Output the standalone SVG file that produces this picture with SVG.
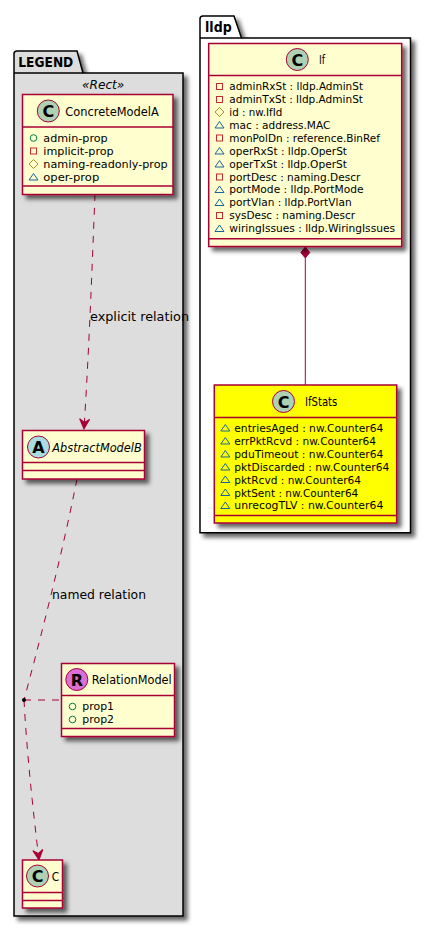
<svg xmlns="http://www.w3.org/2000/svg" width="431" height="927" viewBox="0 0 431 927">
<style>
text{font-family:"DejaVu Sans","Liberation Sans",sans-serif;fill:#000}
.pkg{fill:#DDDDDD;stroke:#000;stroke-width:1.5}
.pkgw{fill:#FFFFFF;stroke:#000;stroke-width:1.5}
.box{fill:#FEFECE;stroke:#A80036;stroke-width:1.5}
.y{fill:#FFFF00}
.div{stroke:#A80036;stroke-width:1.5;fill:none}
.ct{stroke:#A80036;stroke-width:1;fill:#ADD1B2}
.pt{font-size:14px;font-weight:bold}
.hd{font-size:13px}
.it{font-style:italic}
.rw{font-size:11px}
.gl{font-size:16px;font-weight:bold;text-anchor:middle}
.lb{font-size:13px}
.dash{fill:none;stroke:#A80036;stroke-width:1;stroke-dasharray:7 7}
.sh{filter:url(#s)}
</style>
<defs>
<filter id="s" x="-20%" y="-20%" width="140%" height="140%"><feDropShadow dx="4" dy="4" stdDeviation="2" flood-color="#000" flood-opacity="0.6"/></filter>
<marker id="open" viewBox="0 0 12 12" refX="11" refY="6" markerWidth="12" markerHeight="12" markerUnits="userSpaceOnUse" orient="auto"><path d="M1 1 L11 6 L1 11 L4.500 6 Z" fill="#A80036" stroke="#A80036" stroke-width="1"/></marker>
<circle id="pub" r="3.300" fill="none" stroke="#038048"/>
<rect id="pri" x="-3" y="-3" width="6" height="6" fill="none" stroke="#C82930"/>
<path id="pro" d="M0 -4.500 L4.500 0 L0 4.500 L-4.500 0 Z" fill="none" stroke="#B38D22"/>
<path id="pkgp" d="M0 -3.500 L4.500 3 L-4.500 3 Z" fill="none" stroke="#1963A0"/>
</defs>

<g id="pkg-LEGEND">
<path class="pkg sh" d="M14 73 V54 Q14 51 17 51 H77 L83 73 H183 V916 H14 Z"/>
<path d="M14 73 H83" fill="none" stroke="#000" stroke-width="1.500"/>
<text class="pt" x="18.300" y="66.700" textLength="55" lengthAdjust="spacingAndGlyphs">LEGEND</text>
<text class="hd it" x="82" y="89" textLength="42.300" lengthAdjust="spacingAndGlyphs">«Rect»</text>
</g>
<g id="pkg-lldp">
<path class="pkgw sh" d="M200 38 V19 Q200 16 203 16 H234 L241.500 38 H410.500 V532.700 H200 Z"/>
<path d="M200 38 H241.500" fill="none" stroke="#000" stroke-width="1.500"/>
<text class="pt" x="205" y="32" textLength="26.700" lengthAdjust="spacingAndGlyphs">lldp</text>
</g>

<g id="connectors">
<path class="dash" d="M95 194 C92 270 89 350 84 429" marker-end="url(#open)"/>
<path class="dash" d="M77 479 C62 555 40 640 24 700"/>
<path class="dash" d="M24 700 C27 755 33 810 39 860" marker-end="url(#open)"/>
<path class="dash" d="M24 700 H61"/>
<path d="M305.300 258 V385" fill="none" stroke="#A80036"/>
<path d="M305.300 247 L309.800 252.500 L305.300 258 L300.800 252.500 Z" fill="#A80036" stroke="#A80036"/>
<circle cx="24" cy="700" r="2" fill="#000"/>
<text class="lb" x="90" y="320.500" textLength="99" lengthAdjust="spacingAndGlyphs">explicit relation</text>
<text class="lb" x="52" y="598.500" textLength="94" lengthAdjust="spacingAndGlyphs">named relation</text>
</g>

<g id="ConcreteModelA">
<rect class="box sh" x="22.500" y="94.500" width="150.500" height="100"/>
<path class="div" d="M22.500 127 H173 M22.500 186 H173"/>
<circle class="ct" cx="48.300" cy="111" r="11"/>
<text class="gl" x="48.300" y="117">C</text>
<text class="hd" x="65.300" y="115.500" textLength="93.400" lengthAdjust="spacingAndGlyphs">ConcreteModelA</text>
<use href="#pub" x="33.500" y="138"/>
<text class="rw" x="43.300" y="141.500" textLength="64.400" lengthAdjust="spacingAndGlyphs">admin-prop</text>
<use href="#pri" x="33.500" y="151"/>
<text class="rw" x="43.300" y="154.500" textLength="70.400" lengthAdjust="spacingAndGlyphs">implicit-prop</text>
<use href="#pro" x="33.500" y="164"/>
<text class="rw" x="43.300" y="167.500" textLength="124.400" lengthAdjust="spacingAndGlyphs">naming-readonly-prop</text>
<use href="#pkgp" x="33.500" y="177"/>
<text class="rw" x="43.300" y="180.500" textLength="56" lengthAdjust="spacingAndGlyphs">oper-prop</text>
</g>

<g id="AbstractModelB">
<rect class="box sh" x="22.500" y="430.500" width="122" height="48.500"/>
<path class="div" d="M22.500 462.500 H144.500 M22.500 470.500 H144.500"/>
<circle class="ct" cx="38.500" cy="447" r="11" style="fill:#A9DCDF"/>
<text class="gl" x="38.500" y="453">A</text>
<text class="hd it" x="52.300" y="451.500" textLength="89.400" lengthAdjust="spacingAndGlyphs">AbstractModelB</text>
</g>

<g id="RelationModel">
<rect class="box sh" x="61.500" y="663.500" width="113" height="73"/>
<path class="div" d="M61.500 695.500 H174.500 M61.500 728.500 H174.500"/>
<circle class="ct" cx="76.800" cy="679.500" r="11" style="fill:#DA70D6"/>
<text class="gl" x="76.800" y="685.500">R</text>
<text class="hd" x="91.700" y="684" textLength="80" lengthAdjust="spacingAndGlyphs">RelationModel</text>
<use href="#pub" x="72.500" y="706.500"/>
<text class="rw" x="82.300" y="710" textLength="31.700" lengthAdjust="spacingAndGlyphs">prop1</text>
<use href="#pub" x="72.500" y="719.500"/>
<text class="rw" x="82.300" y="723" textLength="31.700" lengthAdjust="spacingAndGlyphs">prop2</text>
</g>

<g id="C">
<rect class="box sh" x="22.500" y="860" width="40" height="48"/>
<path class="div" d="M22.500 892.500 H62.500 M22.500 900.500 H62.500"/>
<circle class="ct" cx="37.500" cy="876" r="11"/>
<text class="gl" x="37.500" y="882">C</text>
<text class="hd" x="51.700" y="881" textLength="7.400" lengthAdjust="spacingAndGlyphs">C</text>
</g>

<g id="If">
<rect class="box sh" x="208.700" y="43.500" width="193" height="203"/>
<path class="div" d="M208.700 75.500 H401.700 M208.700 238.700 H401.700"/>
<circle class="ct" cx="297.300" cy="59.500" r="11"/>
<text class="gl" x="297.300" y="65.500">C</text>
<text class="hd" x="319" y="64" textLength="6" lengthAdjust="spacingAndGlyphs">If</text>
<use href="#pri" x="219.500" y="86.500"/><text class="rw" x="229.300" y="90" textLength="133.700" lengthAdjust="spacingAndGlyphs">adminRxSt : lldp.AdminSt</text>
<use href="#pri" x="219.500" y="99.500"/><text class="rw" x="229.300" y="103" textLength="133.700" lengthAdjust="spacingAndGlyphs">adminTxSt : lldp.AdminSt</text>
<use href="#pro" x="219.500" y="112"/><text class="rw" x="229.300" y="116" textLength="53" lengthAdjust="spacingAndGlyphs">id : nw.IfId</text>
<use href="#pkgp" x="219.500" y="125"/><text class="rw" x="229.300" y="129" textLength="101" lengthAdjust="spacingAndGlyphs">mac : address.MAC</text>
<use href="#pri" x="219.500" y="138"/><text class="rw" x="229.300" y="141.500" textLength="150.700" lengthAdjust="spacingAndGlyphs">monPolDn : reference.BinRef</text>
<use href="#pkgp" x="219.500" y="151"/><text class="rw" x="229.300" y="154.500" textLength="117.700" lengthAdjust="spacingAndGlyphs">operRxSt : lldp.OperSt</text>
<use href="#pkgp" x="219.500" y="164"/><text class="rw" x="229.300" y="167.500" textLength="117.700" lengthAdjust="spacingAndGlyphs">operTxSt : lldp.OperSt</text>
<use href="#pri" x="219.500" y="177"/><text class="rw" x="229.300" y="180.500" textLength="131" lengthAdjust="spacingAndGlyphs">portDesc : naming.Descr</text>
<use href="#pkgp" x="219.500" y="189.500"/><text class="rw" x="229.300" y="193.300" textLength="134.300" lengthAdjust="spacingAndGlyphs">portMode : lldp.PortMode</text>
<use href="#pkgp" x="219.500" y="202.500"/><text class="rw" x="229.300" y="206.300" textLength="122.300" lengthAdjust="spacingAndGlyphs">portVlan : lldp.PortVlan</text>
<use href="#pri" x="219.500" y="215.500"/><text class="rw" x="229.300" y="219.200" textLength="125.700" lengthAdjust="spacingAndGlyphs">sysDesc : naming.Descr</text>
<use href="#pkgp" x="219.500" y="228.500"/><text class="rw" x="229.300" y="232" textLength="165.700" lengthAdjust="spacingAndGlyphs">wiringIssues : lldp.WiringIssues</text>
</g>

<g id="IfStats">
<rect class="box y sh" x="214.300" y="385" width="182.400" height="138"/>
<path class="div" d="M214.300 417.500 H396.700 M214.300 515.500 H396.700"/>
<circle class="ct" cx="283.500" cy="401.500" r="11"/>
<text class="gl" x="283.500" y="407.500">C</text>
<text class="hd" x="305" y="406" textLength="32.300" lengthAdjust="spacingAndGlyphs">IfStats</text>
<use href="#pkgp" x="225.300" y="428"/><text class="rw" x="234.300" y="432" textLength="149" lengthAdjust="spacingAndGlyphs">entriesAged : nw.Counter64</text>
<use href="#pkgp" x="225.300" y="441"/><text class="rw" x="234.300" y="445" textLength="141.700" lengthAdjust="spacingAndGlyphs">errPktRcvd : nw.Counter64</text>
<use href="#pkgp" x="225.300" y="454"/><text class="rw" x="234.300" y="458" textLength="149" lengthAdjust="spacingAndGlyphs">pduTimeout : nw.Counter64</text>
<use href="#pkgp" x="225.300" y="467"/><text class="rw" x="234.300" y="470.800" textLength="155" lengthAdjust="spacingAndGlyphs">pktDiscarded : nw.Counter64</text>
<use href="#pkgp" x="225.300" y="479.500"/><text class="rw" x="234.300" y="483.500" textLength="126.700" lengthAdjust="spacingAndGlyphs">pktRcvd : nw.Counter64</text>
<use href="#pkgp" x="225.300" y="492.500"/><text class="rw" x="234.300" y="496.500" textLength="124" lengthAdjust="spacingAndGlyphs">pktSent : nw.Counter64</text>
<use href="#pkgp" x="225.300" y="505.500"/><text class="rw" x="234.300" y="509.300" textLength="149" lengthAdjust="spacingAndGlyphs">unrecogTLV : nw.Counter64</text>
</g>
</svg>
